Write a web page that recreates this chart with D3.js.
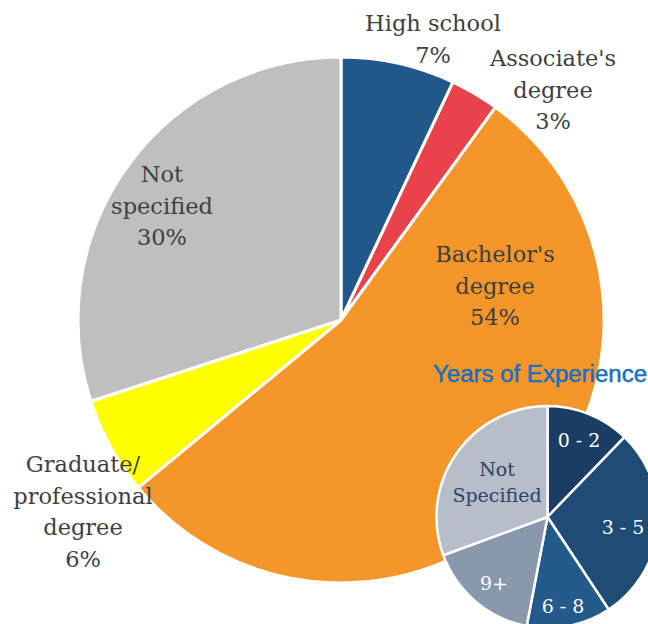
<!DOCTYPE html>
<html>
<head>
<meta charset="utf-8">
<script src="https://cdn.jsdelivr.net/npm/d3@7"></script>
</head>
<body style="margin:0;background:#fff">
<div id="chart"></div>
<script>
// education breakdown (big pie)
var eduCategories = ["High school", "Associate's degree", "Bachelor's degree", "Graduate/ professional degree", "Not specified"];
var eduValues = [7, 3, 54, 6, 30];
var eduColors = ["#22578a", "#e8424a", "#f5962a", "#ffff00", "#bfbfbf"];

// years of experience (small pie)
var expCategories = ["0 - 2", "3 - 5", "6 - 8", "9+", "Not Specified"];
var expValues = [12.2, 28.5, 12.3, 16.4, 30.6];
var expColors = ["#1c3d63", "#204b75", "#245a8a", "#8a98ad", "#b8bdca"];

var svgWidth = 648;
var svgHeight = 624;
var serif = "'DejaVu Serif', serif";

var svg = d3.select("#chart")
  .append("svg")
  .attr("width", svgWidth)
  .attr("height", svgHeight);

// big pie
var bigCx = 341, bigCy = 320, bigR = 263;
var pie = d3.pie().sort(null).value(function(d) { return d; });
var bigArc = d3.arc().innerRadius(0).outerRadius(bigR);

var big = svg.append("g").attr("transform", "translate(" + bigCx + "," + bigCy + ")");
big.selectAll("path")
  .data(pie(eduValues))
  .enter()
  .append("path")
  .attr("d", bigArc)
  .attr("fill", function(d, i) { return eduColors[i]; })
  .attr("stroke", "#fff")
  .attr("stroke-width", 3)
  .attr("stroke-linejoin", "round");

// label lines for each slice, first baseline position (absolute)
var eduLabelPos = [[433, 31], [553, 66], [495, 262], [83, 472], [162, 182]];
var eduLabelLines = [
  ["High school", "7%"],
  ["Associate's", "degree", "3%"],
  ["Bachelor's", "degree", "54%"],
  ["Graduate/", "professional", "degree", "6%"],
  ["Not", "specified", "30%"]
];

eduLabelLines.forEach(function(lines, i) {
  lines.forEach(function(line, j) {
    svg.append("text")
      .attr("x", eduLabelPos[i][0])
      .attr("y", eduLabelPos[i][1] + j * 31.7)
      .attr("text-anchor", "middle")
      .attr("font-family", serif)
      .style("font-family", serif)
      .style("font-size", "22.5px")
      .attr("fill", "#404040")
      .text(line);
  });
});

// small pie
var smallCx = 547.5, smallCy = 517, smallR = 111;
var smallArc = d3.arc().innerRadius(0).outerRadius(smallR);

var small = svg.append("g").attr("transform", "translate(" + smallCx + "," + smallCy + ")");
small.selectAll("path")
  .data(pie(expValues))
  .enter()
  .append("path")
  .attr("d", smallArc)
  .attr("fill", function(d, i) { return expColors[i]; })
  .attr("stroke", "#fff")
  .attr("stroke-width", 2.5)
  .attr("stroke-linejoin", "round");

var expLabelPos = [[579, 447], [623, 534], [563, 613], [494, 590], [497, 476]];
var expLabelLines = [["0 - 2"], ["3 - 5"], ["6 - 8"], ["9+"], ["Not", "Specified"]];
var expTextColors = ["#fff", "#fff", "#fff", "#fff", "#2b4468"];

expLabelLines.forEach(function(lines, i) {
  lines.forEach(function(line, j) {
    svg.append("text")
      .attr("x", expLabelPos[i][0])
      .attr("y", expLabelPos[i][1] + j * 26)
      .attr("text-anchor", "middle")
      .attr("font-family", serif)
      .style("font-family", serif)
      .style("font-size", "19px")
      .attr("fill", expTextColors[i])
      .text(line);
  });
});

// small pie title
svg.append("text")
  .attr("x", 433)
  .attr("y", 382)
  .attr("textLength", 214)
  .attr("lengthAdjust", "spacingAndGlyphs")
  .style("font-family", "'Liberation Sans', Arial, sans-serif")
  .style("font-size", "23px")
  .attr("fill", "#1a6fbf")
  .attr("stroke", "#1a6fbf")
  .attr("stroke-width", 0.5)
  .text("Years of Experience");
</script>
</body>
</html>
